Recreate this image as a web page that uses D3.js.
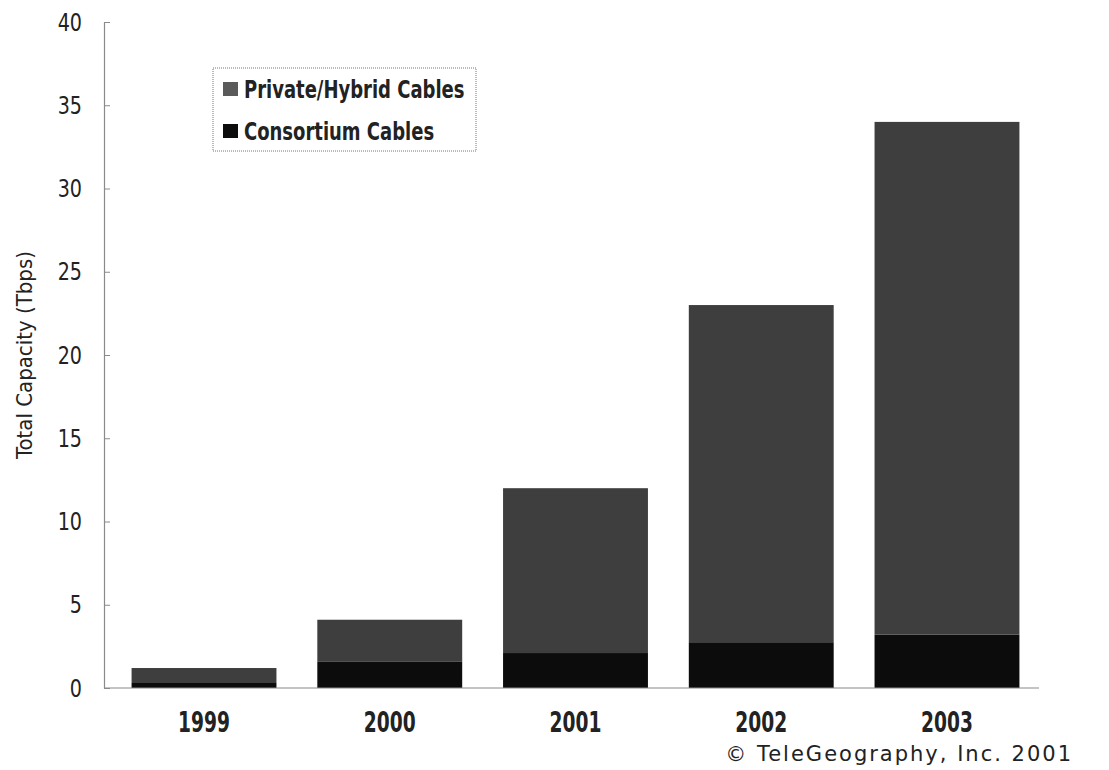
<!DOCTYPE html>
<html>
<head>
<meta charset="utf-8">
<script src="https://cdn.jsdelivr.net/npm/d3@7"></script>
<style>
  html, body { margin: 0; padding: 0; background: #fff; }
  svg { display: block; }
  .narrow { font-family: "Liberation Sans Narrow", "DejaVu Sans Condensed", sans-serif; }
  /* the original uses a tall condensed face, squeeze it a bit */
  .squeeze { transform-box: fill-box; }
</style>
</head>
<body>
<div id="chart"></div>
<script>
// Data (Tbps)
const years = ["1999", "2000", "2001", "2002", "2003"];
const consortium = [0.3, 1.6, 2.1, 2.75, 3.2];
const privateHybrid = [0.9, 2.5, 9.9, 20.25, 30.8];
const yTicks = [0, 5, 10, 15, 20, 25, 30, 35, 40];
const seriesNames = ["Private/Hybrid Cables", "Consortium Cables"];

(function(){
  const width = 1109, height = 770;
  const colors = { private: "#3e3e3e", consortium: "#0c0c0c", legendPrivate: "#5a5a5a" };

  const svg = d3.select("#chart").append("svg")
      .attr("width", width)
      .attr("height", height);

  // scales
  const x = d3.scaleBand()
      .domain(years)
      .range([113, 1038])
      .paddingInner(0.22)
      .paddingOuter(0.1);

  const y = d3.scaleLinear()
      .domain([0, 40])
      .range([688, 22]);

  // stacked table built from the arrays
  const rows = years.map((yr, i) => ({ year: yr, consortium: consortium[i], private: privateHybrid[i] }));
  const stack = d3.stack().keys(["consortium", "private"])(rows);

  svg.append("g")
    .selectAll("g")
    .data(stack)
    .join("g")
      .attr("fill", d => colors[d.key])
    .selectAll("rect")
    .data(d => d)
    .join("rect")
      .attr("x", d => x(d.data.year))
      .attr("width", x.bandwidth())
      .attr("y", d => y(d[1]))
      .attr("height", d => y(d[0]) - y(d[1]));

  // y axis, ticks point into the plot
  const yAxis = svg.append("g")
      .attr("transform", "translate(104,0)")
      .call(d3.axisLeft(y).tickValues(yTicks).tickSizeInner(-6).tickSizeOuter(0).tickPadding(22));
  yAxis.select(".domain").attr("stroke", "#8a8a8a").attr("stroke-width", 1.2);
  yAxis.selectAll(".tick line").attr("stroke", "#8a8a8a");
  yAxis.selectAll("text")
      .attr("class", "narrow squeeze")
      .style("font-size", "25px")
      .style("transform-origin", "right center")
      .style("transform", "scaleX(0.85)")
      .attr("fill", "#222");

  // x axis baseline and year labels
  const xAxis = svg.append("g")
      .attr("transform", "translate(0,688)")
      .call(d3.axisBottom(x).tickSize(0).tickPadding(24));
  xAxis.select(".domain")
      .attr("d", "M104,0H1039")
      .attr("stroke", "#8a8a8a")
      .attr("stroke-width", 1.2);
  xAxis.selectAll("text")
      .attr("class", "narrow squeeze")
      .style("font-size", "28px")
      .style("font-weight", "bold")
      .style("transform-origin", "center")
      .style("transform", "scaleX(0.74)")
      .attr("fill", "#222");

  // y axis title
  svg.append("text")
      .attr("class", "narrow")
      .attr("transform", "translate(32,355) rotate(-90)")
      .attr("text-anchor", "middle")
      .style("font-size", "22px")
      .attr("fill", "#222")
      .text("Total Capacity (Tbps)");

  // legend
  const legend = svg.append("g").attr("transform", "translate(213,68)");
  legend.append("rect")
      .attr("width", 263)
      .attr("height", 83)
      .attr("fill", "#fff")
      .attr("stroke", "#777")
      .attr("stroke-dasharray", "1,1");
  const item = legend.selectAll("g.item")
    .data(seriesNames)
    .join("g")
      .attr("class", "item")
      .attr("transform", (d, i) => `translate(10,${21 + i * 42})`);
  item.append("rect")
      .attr("y", -7)
      .attr("width", 15)
      .attr("height", 14)
      .attr("fill", (d, i) => i === 0 ? colors.legendPrivate : colors.consortium);
  item.append("text")
      .attr("class", "narrow squeeze")
      .attr("x", 21)
      .attr("dy", "0.36em")
      .style("font-size", "25px")
      .style("font-weight", "bold")
      .style("transform-origin", "left center")
      .style("transform", "scaleX(0.8)")
      .attr("fill", "#222")
      .text(d => d);

  // credit line
  svg.append("text")
      .attr("x", 1073)
      .attr("y", 761)
      .attr("text-anchor", "end")
      .style("font-family", "'DejaVu Sans', sans-serif")
      .style("font-size", "21px")
      .style("letter-spacing", "2px")
      .attr("fill", "#222")
      .text("\u00A9 TeleGeography, Inc. 2001");
})();
</script>
</body>
</html>
